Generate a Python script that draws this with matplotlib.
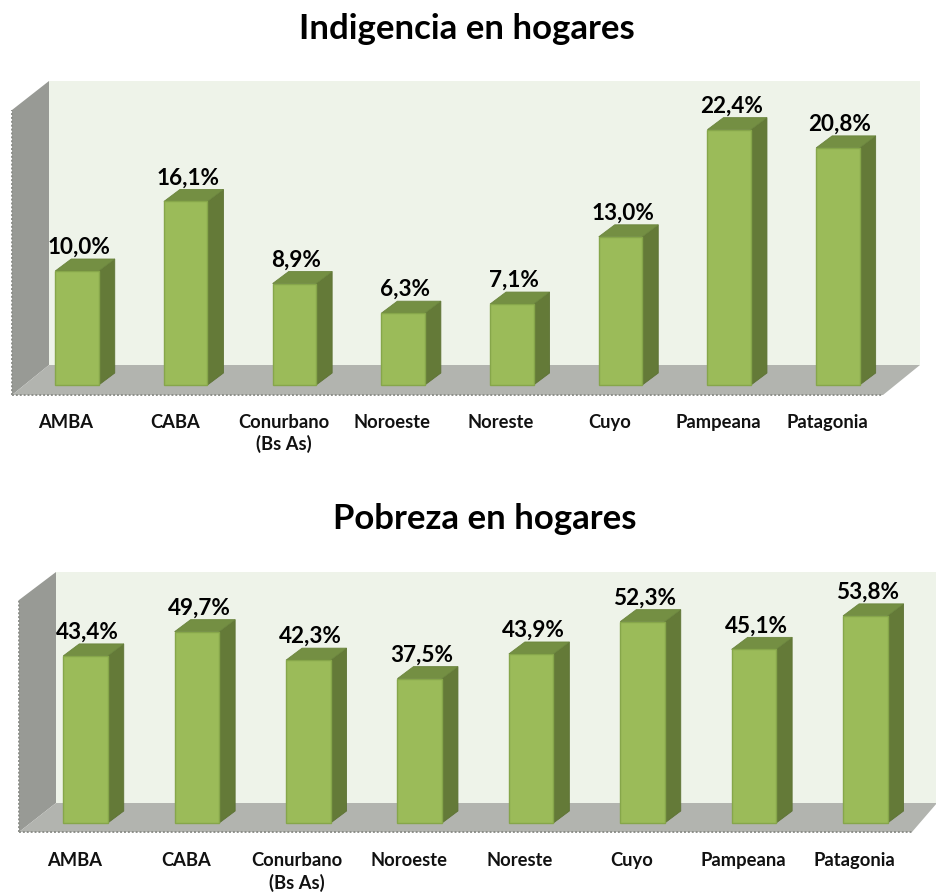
import matplotlib
matplotlib.use("Agg")
import matplotlib.pyplot as plt
from matplotlib.patches import Polygon

W, H = 937, 892
plt.rcParams['font.family'] = ['Lato', 'DejaVu Sans']

categories = ["AMBA", "CABA", "Conurbano\n(Bs As)", "Noroeste", "Noreste", "Cuyo", "Pampeana", "Patagonia"]
indigencia = [10.0, 16.1, 8.9, 6.3, 7.1, 13.0, 22.4, 20.8]
pobreza = [43.4, 49.7, 42.3, 37.5, 43.9, 52.3, 45.1, 53.8]

FRONT, EDGE, SIDE, TOP = "#9BBB59", "#86A64A", "#647A38", "#748F43"
BACK, WALL, FLOOR = "#EEF3E9", "#989A95", "#B2B4AF"


def chart(values, title, title_xy, box, x0, step, bw, base, scale, floor_back, wall_front_top, floor_right, pad):
    left, right, top, bottom = box
    ax = fig.add_axes([left / W, 1 - bottom / H, (right - left) / W, (bottom - top) / H])
    ax.set_xlim((left - x0) / step, (right - x0) / step)
    ax.set_ylim((base - bottom) / scale, (base - top) / scale)
    ax.patch.set_visible(False)
    for s in ax.spines.values():
        s.set_visible(False)
    X = lambda p: (p - x0) / step
    Y = lambda p: (base - p) / scale
    P = lambda pts: [(X(a), Y(b)) for a, b in pts]
    wx = left + 37
    ax.add_patch(Polygon(P([(wx, top), (right, top), (right, floor_back), (wx, floor_back)]), fc=BACK, ec="none", zorder=1))
    ax.add_patch(Polygon(P([(left, wall_front_top), (wx, top), (wx, floor_back), (left, bottom)]), fc=WALL, ec="none", zorder=1))
    ax.add_patch(Polygon(P([(left, bottom), (wx, floor_back), (right, floor_back), (floor_right, bottom)]), fc=FLOOR, ec="none", zorder=1))
    ax.plot([X(left), X(floor_right)], [Y(bottom), Y(bottom)], color="#8E908B", lw=1.4, ls=(0, (1, 1)), zorder=2, clip_on=False)
    ax.plot([X(left), X(left)], [Y(bottom), Y(wall_front_top)], color="#8E908B", lw=1.4, ls=(0, (1, 1)), zorder=2, clip_on=False)

    dx, dy = 16 / step, 12 / scale
    w = bw / step
    xs = list(range(len(values)))
    for i, v in zip(xs, values):
        a, b = i - w / 2, i + w / 2
        b0 = 0
        ax.add_patch(Polygon([(b, b0), (b + dx, b0 + dy), (b + dx, v + dy), (b, v)], fc=SIDE, ec="#5D7234", lw=0.6, zorder=3))
        ax.add_patch(Polygon([(a, v), (b, v), (b + dx, v + dy), (a + dx, v + dy)], fc=TOP, ec="#6B853E", lw=0.6, zorder=3))
    ax.bar(xs, values, width=w, color=FRONT, edgecolor=EDGE, linewidth=1.0, zorder=4)
    for i, v in zip(xs, values):
        ax.annotate(f"{v:.1f}%".replace(".", ","), (i, v), xytext=(1.5, 17), textcoords="offset points",
                    ha="center", va="center", fontsize=16.2, fontweight="bold", color="black", zorder=5)
    ax.set_xticks([i - 11 / step for i in xs])
    ax.set_xticklabels(categories, fontsize=13.2, fontweight="bold", color="#111111", linespacing=1.3)
    ax.set_yticks([])
    ax.tick_params(axis="x", length=0, pad=pad)
    fig.text(title_xy[0] / W, 1 - title_xy[1] / H, title, ha="center", va="center", fontsize=25, fontweight="bold", color="black")


fig = plt.figure(figsize=(W / 100, H / 100), dpi=100, facecolor="white")
chart(indigencia, "Indigencia en hogares", (467, 29), (12, 920, 81, 395), 77, 108.7, 43.5, 385, 11.4, 365, 110, 883, 13.5)
chart(pobreza, "Pobreza en hogares", (485, 519), (19, 937, 572, 832), 85.5, 111.4, 44.5, 823, 3.85, 803, 600, 912, 14.5)
fig.savefig("out.png", dpi=100)
